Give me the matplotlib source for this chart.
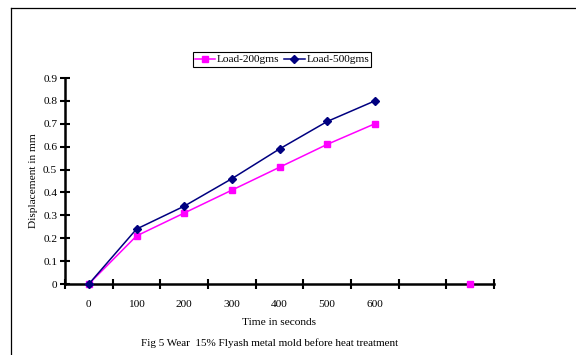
import numpy as np
import matplotlib
matplotlib.use("Agg")
import matplotlib.pyplot as plt
from matplotlib.lines import Line2D

# categories on the x axis (last two are blank slots, as in the original sheet)
categories = ["0", "100", "200", "300", "400", "500", "600", "", ""]
load_200 = [0, 0.21, 0.31, 0.41, 0.51, 0.61, 0.70, np.nan, 0]
load_500 = [0, 0.24, 0.34, 0.46, 0.59, 0.71, 0.80, np.nan, np.nan]
yticks = [0, 0.1, 0.2, 0.3, 0.4, 0.5, 0.6, 0.7, 0.8, 0.9]

plt.rcParams["font.family"] = ["Liberation Serif", "DejaVu Serif"]
plt.rcParams["font.size"] = 8.2

fig = plt.figure(figsize=(5.76, 3.55), dpi=100)
ax = fig.add_axes([65 / 576, 1 - 284 / 355, (494 - 65) / 576, (284 - 78) / 355])

x = np.arange(len(categories))
ax.plot(x, load_200, color="#FF00FF", marker="s", markersize=5, linewidth=1.1,
        label="Load-200gms", clip_on=False, zorder=3)
ax.plot(x, load_500, color="#000080", marker="D", markersize=3.8, linewidth=1.1,
        label="Load-500gms", clip_on=False, zorder=4)

ax.set_xlim(-0.5, len(categories) - 0.5)
ax.set_ylim(0, 0.9)
ax.set_yticks(yticks)
ax.set_yticklabels([f"{v:g}" for v in yticks])

# category boundaries carry the tick marks, labels sit in the middle
ax.set_xticks(np.arange(len(categories) + 1) - 0.5)
ax.set_xticklabels([])
ax.set_xticks(x, minor=True)
ax.set_xticklabels(categories, minor=True)
ax.tick_params(axis="x", which="minor", length=0, pad=11.5)
ax.tick_params(axis="x", which="major", direction="inout", length=7, width=1.5)
ax.tick_params(axis="y", direction="inout", length=7, width=1.5, pad=2)

for s in ["top", "right"]:
    ax.spines[s].set_visible(False)
for s in ["left", "bottom"]:
    ax.spines[s].set_linewidth(1.8)
    ax.spines[s].set_zorder(2)

ax.set_xlabel("Time in seconds", labelpad=6.5)
ax.set_ylabel("Displacement in mm", labelpad=3.5)

leg = fig.legend(loc="center", bbox_to_anchor=(282 / 576, 1 - 59.5 / 355), ncol=2,
                 fancybox=False, edgecolor="black", framealpha=1,
                 handlelength=1.8, handletextpad=0.15, columnspacing=0.4,
                 borderpad=0.2, borderaxespad=0, fontsize=8.2)
leg.get_frame().set_linewidth(0.8)

fig.text(270 / 576, 1 - 343 / 355, "Fig 5 Wear  15% Flyash metal mold before heat treatment",
         ha="center", va="center", fontsize=8)

# outer frame (only left and top edges fall inside the image)
fig.add_artist(Line2D([10.5 / 576, 10.5 / 576], [0, 1 - 7.5 / 355],
                      transform=fig.transFigure, color="black", linewidth=0.9))
fig.add_artist(Line2D([10.5 / 576, 1], [1 - 7.5 / 355, 1 - 7.5 / 355],
                      transform=fig.transFigure, color="black", linewidth=0.9))

fig.savefig("out.png", dpi=100)
